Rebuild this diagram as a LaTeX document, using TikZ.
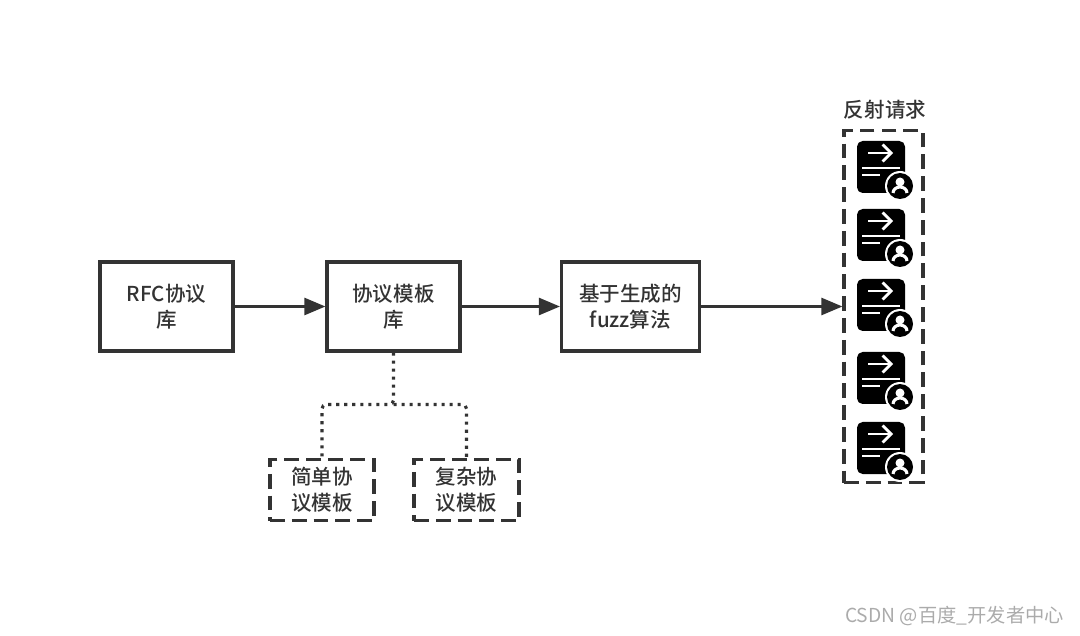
\documentclass[tikz,border=0pt]{standalone}
\usepackage{fontspec}
\setmainfont{Noto Sans CJK SC Medium}
\newfontfamily\markfont{Noto Sans CJK SC}
\usetikzlibrary{arrows.meta}
\definecolor{inkgray}{HTML}{333333}
\definecolor{markgray}{HTML}{ABABAB}

\tikzset{
	solidbox/.style={draw=inkgray,line width=2.15pt,align=center,inner sep=0pt},
	dashbox/.style={solidbox,dash pattern=on 10.5pt off 5pt},
	dotline/.style={draw=inkgray,line width=2.2pt,dash pattern=on 2.2pt off 3.5pt,rounded corners=3pt},
	flow/.style={draw=inkgray,line width=2.1pt,-{Stealth[length=15pt,width=12pt,inset=0pt]}},
	pics/request/.style={code={
		\fill[black,rounded corners=4pt] (-24,-26) rectangle (24,26);
		\draw[white,line width=1.9pt,-{Straight Barb[length=6pt,width=12pt]}] (-13,-14) -- (12,-14);
		\draw[white,line width=1.9pt] (-19,1) -- (19,1);
		\draw[white,line width=1.9pt] (-19,8) -- (-1,8);
		\fill[white] (19,19) circle (15);
		\fill[black] (19,19) circle (13);
		\fill[white] (19,15) circle (4.5);
		\draw[white,line width=2.2pt] (12,26) arc (180:360:7 and 6);
	}}
}

\begin{document}
\begin{tikzpicture}[x=0.025cm,y=-0.025cm,font=\fontsize{14.6pt}{18.5pt}\selectfont,text=inkgray]
	\useasboundingbox (0,0) rectangle (1080,636);
	% main chain
	\node (rfc) [solidbox,minimum width=133*0.025cm,minimum height=89*0.025cm] at (166.5,306.5) {RFC协议\\库};
	\node (tmpl) [solidbox,minimum width=133*0.025cm,minimum height=89*0.025cm] at (393.5,306.5) {协议模板\\库};
	\node (gen) [solidbox,minimum width=138*0.025cm,minimum height=89*0.025cm] at (630.5,306.5) {基于生成的\\fuzz算法};
	% template kinds
	\node (simple) [dashbox,minimum width=104*0.025cm,minimum height=61*0.025cm] at (322,490) {简单协\\议模板};
	\node (complex) [dashbox,minimum width=105*0.025cm,minimum height=61*0.025cm] at (466.5,490) {复杂协\\议模板};
	% requests
	\node (reqs) [dashbox,minimum width=79*0.025cm,minimum height=352*0.025cm] at (883.5,306.5) {};
	\node (reqtitle) at (885,110) {反射请求};
	\foreach \y in {167,235,305,378,448}
		\pic at (881,\y) {request};
	\draw [flow] (rfc) -- (tmpl);
	\draw [flow] (tmpl) -- (gen);
	\draw [flow] (gen) -- (reqs);
	\coordinate (split) at (393.5,404.5);
	\draw [dotline] (tmpl.south) -- (split) -| (simple.north);
	\draw [dotline] (split) -| (complex.north);
	\node (mark) [text=markgray,font=\fontsize{13.7pt}{16pt}\markfont] at (954.5,616) {CSDN @百度\_开发者中心};
\end{tikzpicture}
\end{document}
